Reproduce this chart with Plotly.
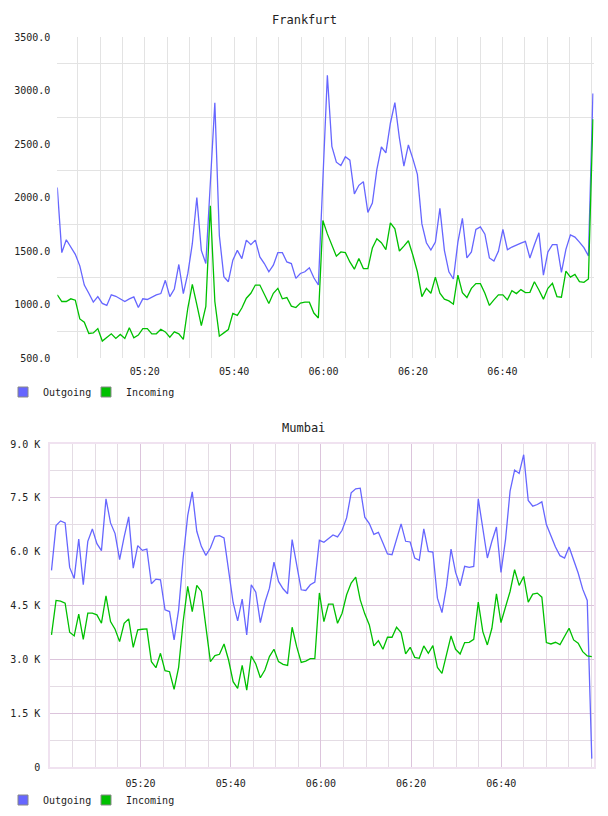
import datetime as dt
import plotly.graph_objects as go

# ---------------- data ----------------
fra_outgoing = [2093, 1485, 1605, 1537, 1469, 1361, 1182, 1105, 1022, 1074,
                1010, 991, 1090, 1077, 1053, 1028, 1053, 1071, 972, 1053,
                1047, 1071, 1090, 1102, 1226, 1074, 1145, 1374, 1102, 1290,
                1568, 2000, 1506, 1383, 2150, 2886, 1645, 1260, 1213, 1414,
                1506, 1429, 1602, 1559, 1602, 1445, 1383, 1306, 1367, 1485,
                1485, 1398, 1383, 1244, 1290, 1306, 1343, 1250, 1182, 2170,
                3142, 2478, 2330, 2299, 2380, 2349, 2034, 2114, 2148, 1861,
                1948, 2262, 2472, 2417, 2694, 2886, 2556, 2293, 2491, 2361,
                2216, 1753, 1577, 1509, 1583, 1898, 1506, 1306, 1238, 1583,
                1806, 1435, 1491, 1701, 1725, 1657, 1435, 1407, 1497, 1701,
                1512, 1537, 1559, 1574, 1590, 1435, 1559, 1670, 1275, 1491,
                1559, 1559, 1300, 1515, 1651, 1630, 1583, 1531, 1454, 2972]
fra_incoming = [1090, 1028, 1028, 1053, 1040, 865, 834, 729, 735, 775,
                658, 689, 726, 683, 720, 683, 782, 689, 714, 775,
                775, 726, 726, 769, 744, 695, 744, 726, 674, 967,
                1189, 998, 803, 982, 1923, 1028, 704, 735, 766, 917,
                898, 967, 1059, 1105, 1182, 1182, 1090, 1010, 1105, 1151,
                1053, 1065, 985, 972, 1013, 1022, 1022, 920, 874, 1785,
                1660, 1553, 1451, 1491, 1485, 1398, 1330, 1429, 1336, 1336,
                1528, 1614, 1577, 1512, 1762, 1707, 1500, 1546, 1596, 1460,
                1306, 1074, 1151, 1105, 1256, 1105, 1050, 1034, 1003, 1275,
                1111, 1065, 1151, 1195, 1195, 1105, 991, 1043, 1090, 1090,
                1043, 1130, 1102, 1139, 1111, 1114, 1213, 1136, 1050, 1151,
                1198, 1074, 1068, 1312, 1256, 1281, 1213, 1207, 1238, 2731]

mum_outgoing = [5478, 6727, 6857, 6801, 5562, 5255, 6354, 5078, 6289, 6634,
                6224, 6028, 7472, 6801, 6503, 5776, 6410, 6969, 5543, 6168,
                6037, 6074, 5106, 5236, 5217, 4379, 4332, 3540, 4379, 5823,
                7006, 7668, 6568, 6149, 5897, 6102, 6428, 6447, 6382, 5543,
                4584, 4071, 4677, 3680, 5078, 4873, 4025, 4584, 4984, 5711,
                5171, 4966, 4826, 6335, 5590, 4938, 4919, 5078, 5152,
                6317, 6261, 6354, 6466, 6410, 6596, 6941, 7640, 7752, 7770,
                6960, 6783, 6484, 6540, 6242, 5935, 5916, 6382, 6773, 6289,
                6270, 5823, 5758, 6634, 6009, 5991, 4705, 4304, 5031, 6074,
                5422, 5050, 5590, 5562, 5590, 7472, 6615, 5823, 6289, 6689,
                5422, 6335, 7686, 8273, 8180, 8702, 7425, 7267, 7314, 7388,
                6755, 6428, 6130, 5888, 5823, 6130, 5758, 5404, 4956, 4640,
                233]
mum_incoming = [3680, 4640, 4621, 4565, 3755, 3652, 4258, 3559, 4286, 4286,
                4239, 4006, 4770, 4053, 3838, 3494, 4006, 4127, 3335, 3820,
                3838, 3848, 2935, 2767, 3168, 2683, 2655, 2161, 2776, 4053,
                5031, 4332, 5059, 4891, 3913, 2935, 3102, 3140, 3428, 2981,
                2376, 2190, 2832, 2143, 3093, 2869, 2487, 2702, 3075, 3280,
                2935, 2860, 2832, 3894, 3354, 2916, 2953, 3019, 3019,
                4850, 4053, 4537, 4537, 4006, 4286, 4798, 5124, 5292, 4658,
                4267, 3960, 3373, 3522, 3279, 3615, 3615, 3894, 3745, 3149,
                3335, 3056, 3028, 3373, 3168, 3382, 2776, 2608, 3121, 3652,
                3279, 3149, 3466, 3475, 3559, 4593, 3773, 3401, 3866, 4826,
                4025, 4472, 4891, 5497, 5059, 5310, 4593, 4817, 4845, 4733,
                3466, 3428, 3475, 3410, 3652, 3866, 3540, 3447, 3214, 3093,
                3075]

fra_yticks = [500, 1000, 1500, 2000, 2500, 3000, 3500]
fra_ylabels = ["500.0", "1000.0", "1500.0", "2000.0", "2500.0", "3000.0", "3500.0"]
fra_ygrid = [750, 1250, 1750, 2250, 2750, 3250]
mum_yticks = [0, 1500, 3000, 4500, 6000, 7500, 9000]
mum_ylabels = ["0", "1.5 K", "3.0 K", "4.5 K", "6.0 K", "7.5 K", "9.0 K"]
time_ticks = ["05:20", "05:40", "06:00", "06:20", "06:40"]
series_names = ["Outgoing", "Incoming"]

# ---------------- time stamps ----------------
day = dt.datetime(2024, 1, 1, 5, 0, 0)
step = 60.4
fra_x = [day + dt.timedelta(seconds=27 + step * i) for i in range(len(fra_outgoing))]
mum_x = [day + dt.timedelta(seconds=16 + step * i) for i in range(len(mum_outgoing))]
tick_dates = [dt.datetime(2024, 1, 1, int(t[:2]), int(t[3:])) for t in time_ticks]

BLUE = "#6666ff"
GREEN = "#00c000"
COLORS = [BLUE, GREEN]
MONO = "DejaVu Sans Mono"
W, H = 608, 816

fig = go.Figure()

for xs, ys_list, ax, ay in [(fra_x, [fra_outgoing, fra_incoming], "x", "y"),
                            (mum_x, [mum_outgoing, mum_incoming], "x2", "y2")]:
    for ys, col, name in zip(ys_list, COLORS, series_names):
        fig.add_trace(go.Scatter(x=xs, y=ys, mode="lines", name=name,
                                 line=dict(color=col, width=1.3),
                                 showlegend=False, xaxis=ax, yaxis=ay))

# legend entries (square swatches), one legend box per entry so they can be placed freely
legend_ids = [["legend", "legend2"], ["legend3", "legend4"]]
for (ax, ay), ids in zip([("x", "y"), ("x2", "y2")], legend_ids):
    for name, col, lg in zip(series_names, COLORS, ids):
        fig.add_trace(go.Scatter(x=[None], y=[None], mode="markers", name=name,
                                 marker=dict(symbol="square", size=10, color=col,
                                             line=dict(color="#888888", width=1)),
                                 xaxis=ax, yaxis=ay, legend=lg))


def px_x(a, b):
    return [a / W, b / W]


def px_y(top, bottom):
    return [1 - bottom / H, 1 - top / H]


tickfont = dict(family=MONO, size=10, color="#222222")
FGRID = "#e3e3e3"
MAJ = "#dcc4dc"
MIN = "#e4dce4"
BORDER = "#f0e2f0"

legend_common = dict(orientation="h", xanchor="left", yanchor="middle",
                     font=dict(family=MONO, size=10, color="#222222"),
                     bgcolor="rgba(0,0,0,0)", itemwidth=30, itemsizing="trace")

fig.update_layout(
    width=W, height=H,
    margin=dict(l=0, r=0, t=0, b=0),
    paper_bgcolor="white", plot_bgcolor="white",
    font=dict(family=MONO, size=10, color="#222222"),
    xaxis=dict(
        domain=px_x(57.3, 593.7), anchor="y", type="date", automargin=False,
        range=[day + dt.timedelta(seconds=27), day + dt.timedelta(seconds=7225)],
        tickmode="array", tickvals=tick_dates, ticktext=time_ticks,
        showgrid=True, gridcolor=FGRID, gridwidth=1, zeroline=False, showline=False,
        ticks="", ticklabelstandoff=6, tickfont=tickfont,
        minor=dict(tickmode="linear", tick0=day, dtick=5 * 60 * 1000,
                   showgrid=True, gridcolor=FGRID, gridwidth=1),
    ),
    yaxis=dict(
        domain=px_y(37, 358), anchor="x", range=[500, 3500], automargin=False,
        tickmode="array", tickvals=fra_yticks, ticktext=fra_ylabels,
        showgrid=False, zeroline=False, showline=False, ticks="",
        ticklabelstandoff=6, tickfont=tickfont,
        minor=dict(tickmode="array", tickvals=fra_ygrid,
                   showgrid=True, gridcolor=FGRID, gridwidth=1),
    ),
    xaxis2=dict(
        domain=px_x(50.3, 594), anchor="y2", type="date", automargin=False,
        range=[day, day + dt.timedelta(seconds=7233)],
        tickmode="array", tickvals=tick_dates, ticktext=time_ticks,
        showgrid=True, gridcolor=MAJ, gridwidth=1, zeroline=False,
        showline=True, linecolor=BORDER, linewidth=2, mirror=True,
        ticks="", ticklabelstandoff=6, tickfont=tickfont,
        minor=dict(tickmode="linear", tick0=day, dtick=5 * 60 * 1000,
                   showgrid=True, gridcolor=MIN, gridwidth=1),
    ),
    yaxis2=dict(
        domain=px_y(444, 767), anchor="x2", range=[0, 9000], automargin=False,
        tickmode="array", tickvals=mum_yticks, ticktext=mum_ylabels,
        showgrid=True, gridcolor=MAJ, gridwidth=1, zeroline=False,
        showline=True, linecolor=BORDER, linewidth=2, mirror=True,
        ticks="", ticklabelstandoff=6, tickfont=tickfont,
        minor=dict(tickmode="linear", tick0=750, dtick=1500,
                   showgrid=True, gridcolor=MIN, gridwidth=1),
    ),
    legend=dict(x=3 / W, y=1 - 392 / H, **legend_common),
    legend2=dict(x=86 / W, y=1 - 392 / H, **legend_common),
    legend3=dict(x=3 / W, y=1 - 800 / H, **legend_common),
    legend4=dict(x=86 / W, y=1 - 800 / H, **legend_common),
    annotations=[
        dict(text="Frankfurt", x=304 / W, y=1 - 20 / H, xref="paper", yref="paper",
             showarrow=False, font=dict(family=MONO, size=12, color="#222222"),
             xanchor="center", yanchor="middle"),
        dict(text="Mumbai", x=303 / W, y=1 - 428 / H, xref="paper", yref="paper",
             showarrow=False, font=dict(family=MONO, size=12, color="#222222"),
             xanchor="center", yanchor="middle"),
    ],
    showlegend=True,
)

fig.write_html("out.html")
